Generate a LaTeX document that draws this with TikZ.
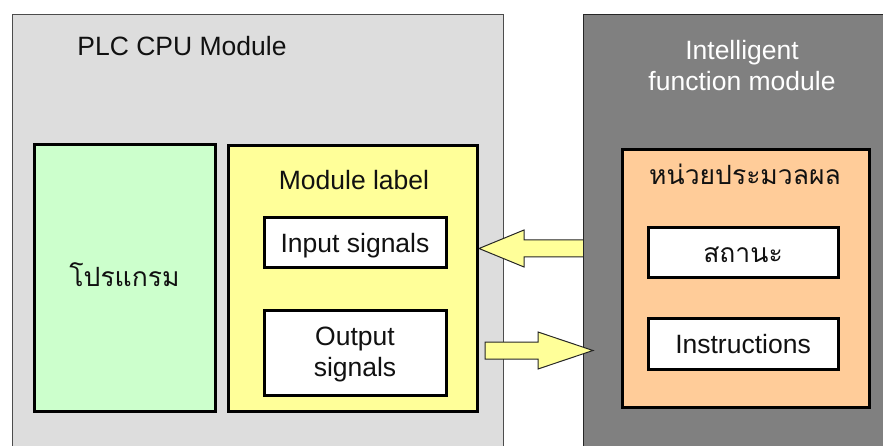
\documentclass[tikz,border=0pt]{standalone}
\usepackage{fontspec}
\setmainfont{Liberation Sans}
\newfontfamily\thaifont[Script=Thai]{Loma}
\usetikzlibrary{calc}
\definecolor{bgleft}{HTML}{DDDDDD}
\definecolor{bgright}{HTML}{808080}
\definecolor{progfill}{HTML}{CCFFCC}
\definecolor{labfill}{HTML}{FFFF99}
\definecolor{procfill}{HTML}{FFCC99}
\definecolor{txt}{HTML}{111111}
\tikzset{
  outerbox/.style={draw=#1, line width=1pt, rectangle, inner sep=0pt},
  innerbox/.style={draw=black, line width=3pt, rectangle, inner sep=0pt},
  bigarrow/.style={draw=black!85, line width=1pt, fill=labfill, line join=miter},
  lbl/.style={inner sep=0pt, text=txt, font=\fontsize{26.5}{31}\selectfont},
}
\begin{document}
\begin{tikzpicture}[x=1pt,y=-1pt]
\useasboundingbox (0,0) rectangle (883,446);
\clip (0,0) rectangle (883,446);
% outer modules
\node[outerbox=black!70, fill=bgleft, minimum width=491pt, minimum height=460pt] (cpu) at (257.5,245) {};
% input arrow (behind the right module)
\coordinate (inTip) at (479,248.5);
\coordinate (inTail) at (590,248.5);
\draw[bigarrow] (inTip) -- ($(inTip)+(45,-18.5)$) -- ($(inTip)+(45,-8.5)$) -- ($(inTail)+(0,-8.5)$)
  -- ($(inTail)+(0,8.5)$) -- ($(inTip)+(45,8.5)$) -- ($(inTip)+(45,18.5)$) -- cycle;
\node[outerbox=black!85, fill=bgright, minimum width=320pt, minimum height=460pt] (ifm) at (743,245) {};
% titles
\node[lbl, anchor=base] (cputitle) at (182,56) {PLC CPU Module};
\node[lbl, anchor=base, text=white, align=center] (ifmtitle) at (742,91) {Intelligent\\function module};
% CPU inner boxes
\node[innerbox, fill=progfill, minimum width=181pt, minimum height=266pt] (prog) at (124.5,278) {};
\node[lbl, anchor=base] (progtext) at (124.5,287) {\thaifont โปรแกรม};
\node[innerbox, fill=labfill, minimum width=249pt, minimum height=265pt] (modlab) at (352.5,278.5) {};
\node[lbl, anchor=base] (modlabtitle) at (354,190) {Module label};
\node[innerbox, fill=white, minimum width=182pt, minimum height=50pt] (insig) at (355,243) {};
\node[lbl, anchor=base] (intext) at (355,253) {Input signals};
\node[innerbox, fill=white, minimum width=182pt, minimum height=85pt] (outsig) at (355,352.5) {};
\node[lbl, anchor=base, align=center] (outtext) at (355,376) {Output\\signals};
% intelligent module inner boxes
\node[innerbox, fill=procfill, minimum width=247pt, minimum height=257pt] (proc) at (745.5,278.5) {};
\node[lbl, anchor=base] (proctitle) at (745,185) {\thaifont หน่วยประมวลผล};
\node[innerbox, fill=white, minimum width=190pt, minimum height=50pt] (status) at (743,253) {};
\node[lbl, anchor=base] (stattext) at (743,262) {\thaifont สถานะ};
\node[innerbox, fill=white, minimum width=190pt, minimum height=51pt] (instr) at (743,343.5) {};
\node[lbl, anchor=base] (instrtext) at (743,353) {Instructions};
% output arrow (on top)
\coordinate (outTail) at (485,350.5);
\coordinate (outTip) at (593,350.5);
\draw[bigarrow] ($(outTail)+(0,-8.5)$) -- ($(outTip)+(-55,-8.5)$) -- ($(outTip)+(-55,-18.5)$) -- (outTip)
  -- ($(outTip)+(-55,18.5)$) -- ($(outTip)+(-55,8.5)$) -- ($(outTail)+(0,8.5)$) -- cycle;
\end{tikzpicture}
\end{document}
